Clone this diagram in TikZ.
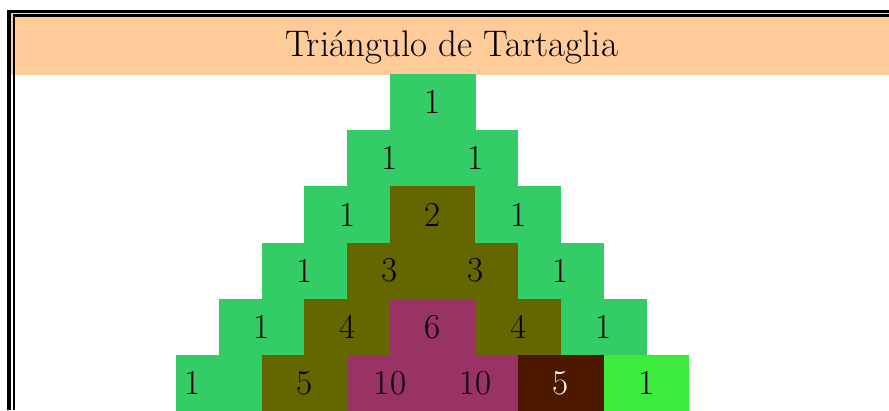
\documentclass[tikz,border=0pt]{standalone}
\usetikzlibrary{calc}

\definecolor{titlebg}{HTML}{FFCC99}
\definecolor{cellgreen}{HTML}{33CC66}
\definecolor{cellolive}{HTML}{666600}
\definecolor{cellplum}{HTML}{993366}
\definecolor{cellbrown}{HTML}{4C1900}
\definecolor{celllime}{HTML}{3DEB3D}

\begin{document}
\begin{tikzpicture}[x=1pt, y=-1pt]
\useasboundingbox (0,0) rectangle (889,410);
\clip (0,0) rectangle (889,410);

% cell styles
\tikzset{cell/.style={minimum width=85.6pt, minimum height=56.4pt, inner sep=0pt, outer sep=0pt,
                      draw=none, font=\fontsize{35}{40}\selectfont},
         one/.style={cell, fill=cellgreen},
         mid/.style={cell, fill=cellolive},
         big/.style={cell, fill=cellplum},
         dark/.style={cell, fill=cellbrown, text=white},
         lime/.style={cell, fill=celllime}}
\def\w{85.5}
\def\h{56.2}
% \tcell{row}{pos}{value}{style}
\newcommand{\tcell}[4]{\node[#4] (c#1#2) at ({390+\w/2-#1*\w/2+#2*\w}, {74+\h/2+#1*\h}) {#3};}

% ---- title bar
\fill[titlebg] (11,13) rectangle (889,75);
\node[font=\fontsize{37}{42}\selectfont, anchor=base] (title) at (451.5,56.7) {Triángulo de Tartaglia};

% ---- double frame
\draw[line width=3.5pt] (9,410) -- (9,11.6) -- (889,11.6);
\draw[line width=2.5pt] (14,410) -- (14,15.6) -- (889,15.6);

% ===== row 0
\tcell{0}{0}{1}{one}
% ===== row 1
\tcell{1}{0}{1}{one}
\tcell{1}{1}{1}{one}
% ===== row 2
\tcell{2}{0}{1}{one}
\tcell{2}{1}{2}{mid}
\tcell{2}{2}{1}{one}
% ===== row 3
\tcell{3}{0}{1}{one}
\tcell{3}{1}{3}{mid}
\tcell{3}{2}{3}{mid}
\tcell{3}{3}{1}{one}
% ===== row 4
\tcell{4}{0}{1}{one}
\tcell{4}{1}{4}{mid}
\tcell{4}{2}{6}{big}
\tcell{4}{3}{4}{mid}
\tcell{4}{4}{1}{one}
% ===== row 5
\tcell{5}{0}{1}{one, text width=69.6pt, inner xsep=8pt, align=left}
\tcell{5}{1}{5}{mid}
\tcell{5}{2}{10}{big}
\tcell{5}{3}{10}{big}
\tcell{5}{4}{5}{dark}
\tcell{5}{5}{1}{lime}
\end{tikzpicture}
\end{document}
